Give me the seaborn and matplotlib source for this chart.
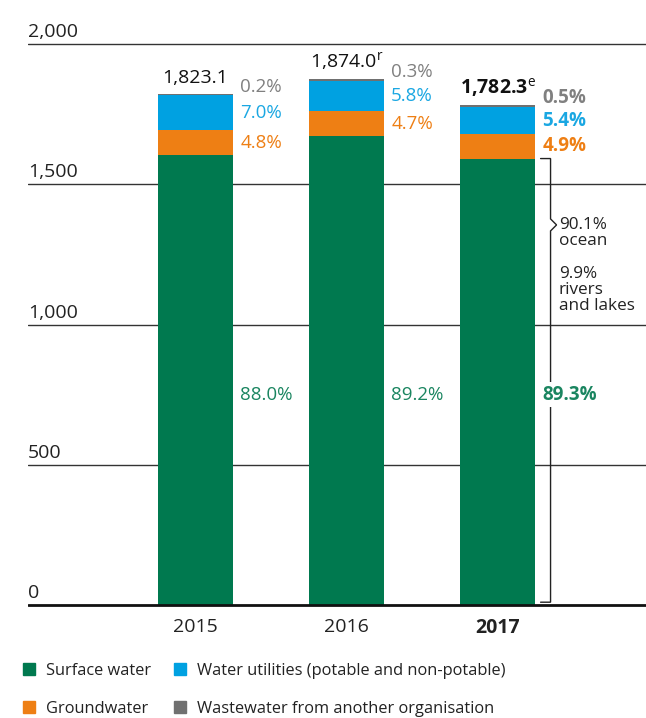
import numpy as np
import pandas as pd
import matplotlib
matplotlib.use('Agg')
import matplotlib.pyplot as plt
from matplotlib.patches import Patch
import seaborn as sns

# values
years = ['2015', '2016', '2017']
totals = [1823.1, 1874.0, 1782.3]
total_notes = ['', 'r', 'e']
surface_pct = [88.0, 89.2, 89.3]
ground_pct = [4.8, 4.7, 4.9]
utility_pct = [7.0, 5.8, 5.4]
waste_pct = [0.2, 0.3, 0.5]
ocean_pct = 90.1
rivers_pct = 9.9
y_ticks = [0, 500, 1000, 1500, 2000]

sources = ['Surface water', 'Groundwater',
           'Water utilities (potable and non-potable)',
           'Wastewater from another organisation']
colors = ['#00794f', '#ee7f14', '#00a1e1', '#707070']
text_colors = ['#1a8560', '#ee7f14', '#1aa7e2', '#808080']

sns.set_theme(style='white')
plt.rcParams['font.family'] = ['Open Sans', 'DejaVu Sans']
plt.rcParams['mathtext.fontset'] = 'custom'
plt.rcParams['mathtext.rm'] = 'Open Sans'

# segment sizes and cumulative tops
pcts = np.array([surface_pct, ground_pct, utility_pct, waste_pct])
seg = pcts * np.array(totals) / 100
tops = np.cumsum(seg, axis=0)
tops[-1] = totals
df = pd.DataFrame({'year': years})
for k in range(4):
    df['top%d' % k] = tops[k]

fig = plt.figure(figsize=(6.46, 7.18), dpi=100)
px = 561 / 2000
ax = fig.add_axes([28 / 646, 1 - 608 / 718, 618 / 646, 568 / 718])

# draw cumulative bars from the top layer down so each colour shows its segment
for k in [3, 2, 1, 0]:
    sns.barplot(data=df, x='year', y='top%d' % k, color=colors[k], saturation=1,
                width=0.5, errorbar=None, ax=ax, zorder=2, linewidth=0,
                edgecolor='none')

ax.set_xlim(-1.109, 2.983)
ax.set_ylim(-3 / px, 2000 + 4 / px)
for v in y_ticks:
    if v == 0:
        ax.axhline(v, color='#111111', lw=2, zorder=3)
    else:
        ax.axhline(v, color='#333333', lw=1, zorder=1)
    ax.annotate(f'{v:,}', xy=(0, v), xycoords=ax.get_yaxis_transform(),
                xytext=(0, 5), textcoords='offset points', ha='left',
                va='baseline', fontsize=14, color='#222222')

sns.despine(ax=ax, left=True, bottom=True)
ax.set_yticks([])
ax.set_ylabel('')
ax.set_xlabel('')
ax.set_xticks(range(3))
ax.set_xticklabels(years, fontsize=14, color='#222222')
ax.get_xticklabels()[2].set_fontweight('bold')
ax.tick_params(axis='x', length=0, pad=7)

for i in range(3):
    w = 'bold' if i == 2 else 'normal'
    right = i + 0.25
    # totals
    label = f'{totals[i]:,.1f}'
    if total_notes[i]:
        label += r'$^{\mathrm{%s}}$' % total_notes[i]
    ax.annotate(label, xy=(i, totals[i]), xytext=(0, 8), textcoords='offset points',
                ha='center', va='baseline', fontsize=14, fontweight=w,
                color='#111111')
    # groundwater and utilities at segment centres
    for k in [1, 2]:
        yc = tops[k][i] - seg[k][i] / 2
        ax.annotate(f'{pcts[k][i]:.1f}%', xy=(right, yc), xytext=(5, 0),
                    textcoords='offset points', ha='left', va='center',
                    fontsize=13.5, fontweight=w, color=text_colors[k])
    # wastewater just above the bar
    ax.annotate(f'{pcts[3][i]:.1f}%', xy=(right, totals[i]), xytext=(5, 5),
                textcoords='offset points', ha='left', va='center',
                fontsize=13.5, fontweight=w, color=text_colors[3])
    # surface water
    ax.annotate(f'{pcts[0][i]:.1f}%', xy=(right, 750), xytext=(5, 0),
                textcoords='offset points', ha='left', va='center',
                fontsize=13.5, fontweight=w, color=text_colors[0],
                bbox=dict(boxstyle='square,pad=0.15', fc='white', ec='none'),
                zorder=5)

# bracket on the 2017 surface water bar
bx = 2.351
tx = 2.285
ytop = tops[0][2]
ybot = 10
ych = 1355
dy = 6 / px
dx = 6 / 151
ax.plot([tx, bx, bx, bx + dx, bx, bx, tx],
        [ytop, ytop, ych + dy, ych, ych - dy, ybot, ybot],
        color='#222222', lw=1, zorder=4, solid_joinstyle='miter')
ax.annotate(f'{ocean_pct:.1f}%\nocean', xy=(bx, 1326), xytext=(6, 0),
            textcoords='offset points', ha='left', va='center', fontsize=12.3,
            linespacing=1.0, color='#222222')
ax.annotate(f'{rivers_pct:.1f}%\nrivers\nand lakes', xy=(bx, 1123), xytext=(6, 0),
            textcoords='offset points', ha='left', va='center', fontsize=12.3,
            linespacing=1.0, color='#222222')

handles = [Patch(color=c) for c in colors]
fig.legend(handles, sources, ncol=2, loc='upper left',
           bbox_to_anchor=(23 / 646, 1 - 663 / 718), frameon=False, fontsize=11.8,
           handlelength=0.75, handleheight=0.75, handletextpad=0.65,
           columnspacing=1.4, labelspacing=1.35, borderaxespad=0, borderpad=0,
           labelcolor='#222222')

fig.savefig('out.png', dpi=100)
